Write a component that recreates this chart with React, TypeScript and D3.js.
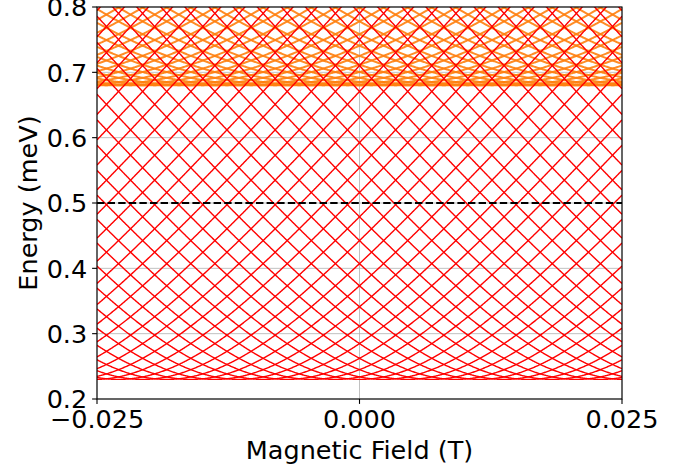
import React from "react";
import * as d3 from "d3";

// ---- data ----
const fieldDomain = [-0.025, 0.025]; // T
const energyDomain = [0.2, 0.8]; // meV
const xTicks = [-0.025, 0.0, 0.025];
const yTicks = [0.2, 0.3, 0.4, 0.5, 0.6, 0.7, 0.8];

// two bands of Andreev-like levels: gap (meV) and field coupling (meV/T)
const bandNames = ["upper", "lower"];
const bandGaps = [0.68, 0.23];
const bandCoupling = [18.3, 18.3];
// level energies at zero field, before the gap is added (meV)
const levelOffsets = [
  -1.218, -1.176, -1.134, -1.092, -1.05, -1.008, -0.966, -0.924, -0.882, -0.84,
  -0.798, -0.756, -0.714, -0.672, -0.63, -0.588, -0.546, -0.504, -0.462, -0.42,
  -0.378, -0.336, -0.294, -0.252, -0.21, -0.168, -0.126, -0.084, -0.042, 0.0,
  0.042, 0.084, 0.126, 0.168, 0.21, 0.252, 0.294, 0.336, 0.378, 0.42,
  0.462, 0.504, 0.546, 0.588, 0.63, 0.672, 0.714, 0.756, 0.798, 0.84,
  0.882, 0.924, 0.966, 1.008, 1.05, 1.092, 1.134, 1.176, 1.218,
];
const referenceEnergy = [0.5];

// ---- layout ----
const W = 688;
const H = 472;
const M = { left: 97, top: 7, right: 688 - 622, bottom: 472 - 399 };
const FONT = "DejaVu Sans, sans-serif";
const FS = 25.5;
const bandStyles = [
  { color: "#ff7f0e", width: 2, opacity: 0.9 },
  { color: "#ff0000", width: 1.4, opacity: 1 },
];

export default function App() {
  const iw = W - M.left - M.right;
  const ih = H - M.top - M.bottom;
  const x = d3.scaleLinear().domain(fieldDomain).range([0, iw]);
  const y = d3.scaleLinear().domain(energyDomain).range([ih, 0]);
  const samples = d3.range(0, 801).map((i) => fieldDomain[0] + ((fieldDomain[1] - fieldDomain[0]) * i) / 800);
  const line = d3
    .line<[number, number]>()
    .x((d) => x(d[0]))
    .y((d) => y(d[1]));

  const fmtX = (v: number) => {
    const s = Math.abs(v).toFixed(3);
    return v < 0 ? "\u2212" + s : s;
  };

  return (
    <svg
      width={W}
      height={H}
      style={{ position: "absolute", left: 0, top: 0, background: "#fff" }}
      fontFamily={FONT}
    >
      <defs>
        <clipPath id="plot">
          <rect x={0} y={0} width={iw} height={ih} />
        </clipPath>
      </defs>
      <g transform={`translate(${M.left},${M.top})`}>
        {/* grid */}
        {xTicks.map((t) => (
          <line key={"gx" + t} x1={x(t)} x2={x(t)} y1={0} y2={ih} stroke="#b0b0b0" strokeWidth={0.8} />
        ))}
        {yTicks.map((t) => (
          <line key={"gy" + t} x1={0} x2={iw} y1={y(t)} y2={y(t)} stroke="#b0b0b0" strokeWidth={0.8} />
        ))}
        <g clipPath="url(#plot)">
          {bandNames.map((name, bi) => (
            <g key={name}>
              {levelOffsets.map((xi, li) => {
                const pts: [number, number][] = samples.map((b) => [
                  b,
                  Math.sqrt(bandGaps[bi] ** 2 + (xi + bandCoupling[bi] * b) ** 2),
                ]);
                const minE = d3.min(pts, (p) => p[1]) as number;
                if (minE > energyDomain[1] + 0.05) return null;
                const st = bandStyles[bi];
                return (
                  <path
                    key={li}
                    d={line(pts) || ""}
                    fill="none"
                    stroke={st.color}
                    strokeWidth={st.width}
                    strokeOpacity={st.opacity}
                  />
                );
              })}
            </g>
          ))}
          {referenceEnergy.map((e) => (
            <line
              key={"ref" + e}
              x1={0}
              x2={iw}
              y1={y(e)}
              y2={y(e)}
              stroke="#000"
              strokeWidth={2}
              strokeDasharray="7.4 3.2"
            />
          ))}
        </g>
        {/* spines */}
        <rect x={0} y={0} width={iw} height={ih} fill="none" stroke="#000" strokeWidth={1.1} />
        {/* x ticks */}
        {xTicks.map((t) => (
          <g key={"tx" + t} transform={`translate(${x(t)},${ih})`}>
            <line y1={0} y2={4.9} stroke="#000" strokeWidth={1.1} />
            <text y={28.5} textAnchor="middle" fontSize={FS} fill="#000">
              {fmtX(t)}
            </text>
          </g>
        ))}
        {/* y ticks */}
        {yTicks.map((t) => (
          <g key={"ty" + t} transform={`translate(0,${y(t)})`}>
            <line x1={0} x2={-4.9} stroke="#000" strokeWidth={1.1} />
            <text x={-9.8} dy="0.36em" textAnchor="end" fontSize={FS} fill="#000">
              {t.toFixed(1)}
            </text>
          </g>
        ))}
        <text x={iw / 2} y={ih + 60} textAnchor="middle" fontSize={FS} fill="#000">
          Magnetic Field (T)
        </text>
        <text
          transform={`translate(${37 - M.left},${ih / 2}) rotate(-90)`}
          textAnchor="middle"
          fontSize={FS}
          fill="#000"
        >
          Energy (meV)
        </text>
      </g>
    </svg>
  );
}
